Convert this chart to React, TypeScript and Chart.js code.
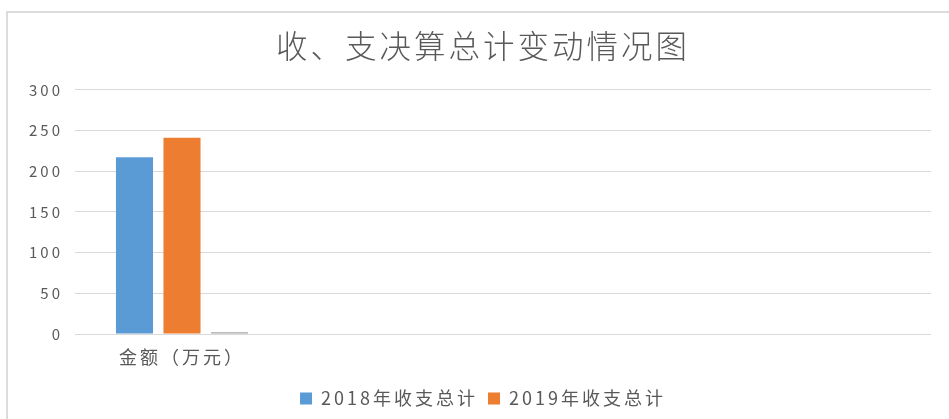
import React, { useEffect, useRef } from "react";
import { Chart, registerables } from "chart.js";

Chart.register(...registerables);

const titleText = "收、支决算总计变动情况图";
const categories = ["金额（万元）", "", "", ""];
const seriesNames = ["2018年收支总计", "2019年收支总计", "增减变化"];
const series2018 = [217, null, null, null];
const series2019 = [241, null, null, null];
const seriesChange = [2, null, null, null];
const yTicks = [0, 50, 100, 150, 200, 250, 300];

const FONT = "'Noto Sans CJK SC', 'Noto Sans', sans-serif";
const TEXT = "#595959";
const CANVAS_W = 966;
const CANVAS_H = 419;

const spacingPlugin = {
  id: "spacing",
  beforeUpdate(chart: any) {
    chart.ctx.letterSpacing = "3px";
  },
  beforeDraw(chart: any) {
    chart.ctx.letterSpacing = "3px";
  },
};

export default function App() {
  const ref = useRef<HTMLCanvasElement | null>(null);

  useEffect(() => {
    if (!ref.current) return;
    const chart = new Chart(ref.current, {
      type: "bar",
      data: {
        labels: categories,
        datasets: [
          {
            label: seriesNames[0],
            data: series2018,
            backgroundColor: "#5B9BD5",
          },
          {
            label: seriesNames[1],
            data: series2019,
            backgroundColor: "#ED7D31",
          },
          {
            label: seriesNames[2],
            data: seriesChange,
            backgroundColor: "#A5A5A5",
          },
        ],
      },
      options: {
        responsive: false,
        maintainAspectRatio: false,
        devicePixelRatio: 1,
        animation: false,
        layout: { padding: { left: 0, right: 0, top: 0, bottom: 1.5 } },
        datasets: {
          bar: { categoryPercentage: 0.666, barPercentage: 0.78 },
        },
        plugins: {
          title: {
            display: true,
            text: titleText,
            color: TEXT,
            font: { family: FONT, size: 31.5, weight: "300" as any, lineHeight: 1.2 },
            padding: { top: 27, bottom: 25 },
          },
          legend: {
            position: "bottom",
            labels: {
              boxWidth: 12,
              boxHeight: 12,
              padding: 10,
              color: TEXT,
              font: { family: FONT, size: 18 },
              filter: (item: any) => item.datasetIndex !== 2,
            },
          },
          tooltip: { enabled: false },
        },
        scales: {
          x: {
            grid: { display: false, drawTicks: false },
            border: { display: false },
            ticks: {
              color: TEXT,
              padding: 12,
              font: { family: FONT, size: 18 },
              maxRotation: 0,
              autoSkip: false,
            },
            afterFit: (scale: any) => {
              scale.height = 45.5;
            },
          },
          y: {
            min: 0,
            max: 300,
            grid: { color: "#D9D9D9", lineWidth: 1, drawTicks: false },
            border: { display: false },
            ticks: {
              color: TEXT,
              padding: 12,
              font: { family: FONT, size: 15 },
            },
            afterBuildTicks: (scale: any) => {
              scale.ticks = yTicks.map((v) => ({ value: v }));
            },
            afterFit: (scale: any) => {
              scale.width = 75;
            },
          },
          yRightSpace: {
            type: "linear",
            position: "right",
            display: true,
            grid: { display: false, drawTicks: false },
            border: { display: false },
            ticks: { display: false },
            afterFit: (scale: any) => {
              scale.width = 35;
            },
          },
        },
      },
      plugins: [spacingPlugin],
    });
    return () => chart.destroy();
  }, []);

  return (
    <div
      style={{
        position: "fixed",
        left: 0,
        top: 0,
        width: 949,
        height: 419,
        background: "#ffffff",
        overflow: "hidden",
      }}
    >
      <div
        style={{
          position: "absolute",
          left: 6,
          top: 11,
          width: 1000,
          height: 500,
          borderLeft: "2px solid #dcdcdc",
          borderTop: "2px solid #dcdcdc",
          boxSizing: "border-box",
        }}
      />
      <canvas
        ref={ref}
        width={CANVAS_W}
        height={CANVAS_H}
        style={{ position: "absolute", left: 0, top: 0, width: CANVAS_W, height: CANVAS_H }}
      />
    </div>
  );
}
